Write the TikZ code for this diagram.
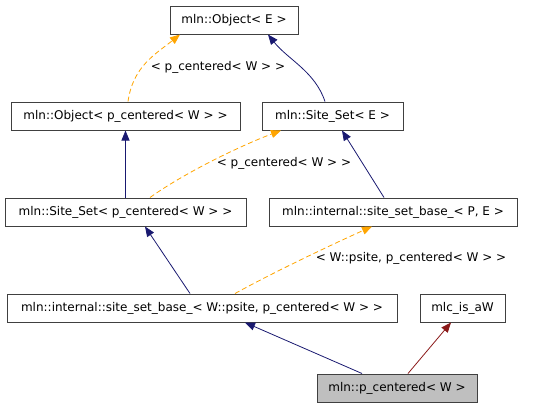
\documentclass[tikz,border=0pt]{standalone}
\usepackage{fontspec}
\setmainfont{DejaVu Sans}
\usepackage{xcolor}
\usepackage{tikz}
\usetikzlibrary{arrows.meta}
\definecolor{boxgray}{HTML}{404040}
\definecolor{pubblue}{HTML}{191970}
\definecolor{tmplorange}{HTML}{FFA500}
\definecolor{privred}{HTML}{8B1A1A}

\begin{document}
\begin{tikzpicture}[x=1pt, y=-1pt, font=\fontsize{12}{14}\selectfont,
		cls/.style={draw=boxgray, line width=1pt, minimum height=28pt, inner sep=0pt},
		inh/.style={draw=pubblue, line width=0.8pt, -{Triangle[length=10pt,width=8pt]}},
		tmpl/.style={draw=tmplorange, line width=0.8pt, dash pattern=on 5pt off 3pt, -{Triangle[length=10pt,width=8pt]}},
		priv/.style={draw=privred, line width=0.8pt, -{Triangle[length=10pt,width=8pt]}}]
		\useasboundingbox (0,0) rectangle (544,408);
		\node[cls, minimum width=128pt] at (234,20)  (objE){mln::Object< E >};
		\node[cls, minimum width=229pt] at (125.5,116) (objP){mln::Object< p\_centered< W > >};
		\node[cls, minimum width=141pt] at (332.5,116) (ssE){mln::Site\_Set< E >};
		\node[cls, minimum width=241pt] at (125.5,212) (ssP){mln::Site\_Set< p\_centered< W > >};
		\node[cls, minimum width=248pt] at (393,212) (ssbPE){mln::internal::site\_set\_base\_< P, E >};
		\node[cls, minimum width=390pt] at (202,308) (ssbW){mln::internal::site\_set\_base\_< W::psite, p\_centered< W > >};
		\node[cls, minimum width=85pt] at (462.5,308) (mlc){mlc\_is\_aW};
		\node[cls, minimum width=160pt, fill=black!25] at (397,388) (pc){mln::p\_centered< W >};
		% template arguments
		\node at (218,67)  (argObj){< p\_centered< W > >};
		\node at (284,163) (argSs){< p\_centered< W > >};
		\node at (411,258) (argSsb){< W::psite, p\_centered< W > >};
		\draw[inh] ([xshift=-7.5pt]ssE.north) .. controls +(-10,-30) and +(20,25) .. ([xshift=34pt]objE.south);
		\draw[tmpl] ([xshift=2.5pt]objP.north) .. controls +(5,-35) and +(-25,20) .. ([xshift=-54pt]objE.south);
		\draw[inh] (ssP.north) -- (objP.south);
		\draw[tmpl] ([xshift=24.5pt]ssP.north) .. controls +(35,-25) and +(-40,15) .. ([xshift=-51.5pt]ssE.south);
		\draw[inh] ([xshift=-9pt]ssbPE.north) -- ([xshift=9.5pt]ssE.south);
		\draw[inh] ([xshift=-12pt]ssbW.north) -- ([xshift=19.5pt]ssP.south);
		\draw[tmpl] ([xshift=33pt]ssbW.north) .. controls +(40,-22) and +(-40,18) .. ([xshift=-21pt]ssbPE.south);
		\draw[inh] ([xshift=-35pt]pc.north) -- ([xshift=43pt]ssbW.south);
		\draw[priv] ([xshift=11pt]pc.north) -- ([xshift=-11.5pt]mlc.south);
	\end{tikzpicture}
\end{document}
